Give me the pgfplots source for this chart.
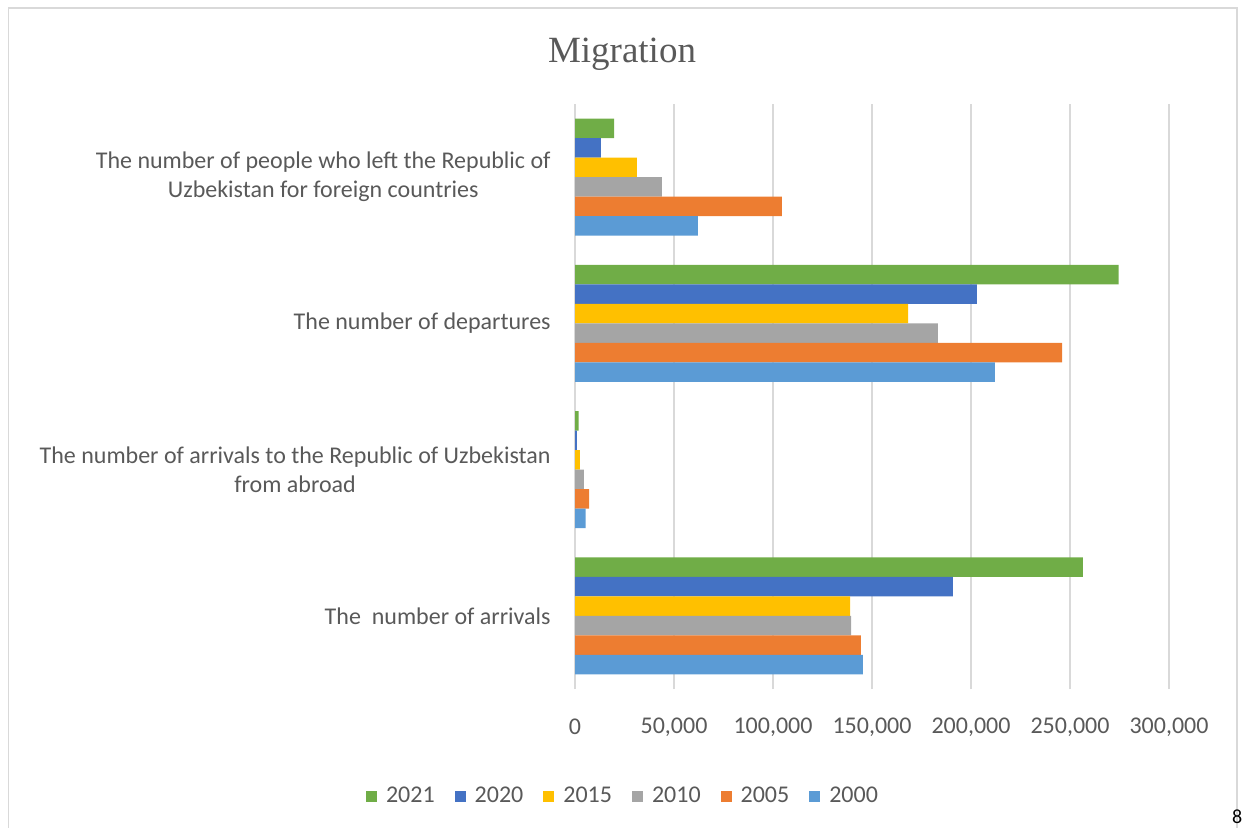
\documentclass[border=0pt]{standalone}
\usepackage{pgfplots}
\pgfplotsset{compat=1.18}
\usepackage{fontspec}
\setmainfont{Carlito}
\newfontfamily\titlefont{Liberation Serif}
\definecolor{c2021}{HTML}{70AD47}
\definecolor{c2020}{HTML}{4472C4}
\definecolor{c2015}{HTML}{FFC000}
\definecolor{c2010}{HTML}{A5A5A5}
\definecolor{c2005}{HTML}{ED7D31}
\definecolor{c2000}{HTML}{5B9BD5}
\definecolor{gridgray}{HTML}{D9D9D9}
\definecolor{textgray}{HTML}{595959}

\begin{document}
\begin{tikzpicture}
% canvas: 1 px of the reference = 0.5pt
\useasboundingbox (0,0) rectangle (621.5pt,413.5pt);
\begin{scope}
\clip (0,0) rectangle (621.5pt,413.5pt);
\draw[gridgray, line width=0.8pt] (4.3pt,-5pt) -- (4.3pt,409.5pt) -- (618.5pt,409.5pt) -- (618.5pt,-5pt);
\end{scope}
\node[anchor=base east, inner sep=0pt, font=\fontsize{10}{12}\selectfont, text=black] at (621.3pt,2pt) {8};
\node[font=\titlefont\fontsize{18.5}{22}\selectfont, text=textgray] at (311pt,386.5pt) {Migration};
\begin{axis}[
  at={(287.5pt,69pt)}, anchor=south west,
  scale only axis, width=297pt, height=292.5pt,
  xbar, bar width=9.75pt,
  xmin=0, xmax=300000,
  ymin=-0.5, ymax=3.5,
  xtick={0,50000,100000,150000,200000,250000,300000},
  xticklabels={0,{50,000},{100,000},{150,000},{200,000},{250,000},{300,000}},
  scaled x ticks=false,
  xmajorgrids, grid style={gridgray, line width=0.7pt},
  axis line style={draw=none},
  major tick length=0pt,
  tick style={draw=none},
  ytick={0,1,2,3},
  yticklabels={{The\ \ number of arrivals},
    {The number of arrivals to the Republic of Uzbekistan\\from abroad},
    {The number of departures},
    {The number of people who left the Republic of\\Uzbekistan for foreign countries}},
  tick label style={font=\fontsize{12}{14.5}\selectfont, text=textgray},
  yticklabel style={align=center, anchor=east, inner sep=0pt, xshift=-12pt},
  xticklabel style={anchor=center, inner sep=0pt, yshift=-19pt},
  legend columns=6,
  legend style={draw=none, at={(0.0825,-0.1835)}, anchor=center,
    font=\fontsize{12}{14}\selectfont, text=textgray,
    /tikz/every odd column/.append style={column sep=2.5pt},
    /tikz/every even column/.append style={column sep=8pt}},
  legend image code/.code={\fill[#1] (0pt,-2.75pt) rectangle (5.5pt,2.75pt);},
]
\addplot[draw=none, fill=c2021, bar shift=24.375pt] coordinates {(256500,0) (1800,1) (274600,2) (19700,3)};
\addplot[draw=none, fill=c2020, bar shift=14.625pt] coordinates {(190900,0) (1000,1) (203000,2) (13100,3)};
\addplot[draw=none, fill=c2015, bar shift=4.875pt] coordinates {(138900,0) (2500,1) (168200,2) (31300,3)};
\addplot[draw=none, fill=c2010, bar shift=-4.875pt] coordinates {(139400,0) (4500,1) (183300,2) (43900,3)};
\addplot[draw=none, fill=c2005, bar shift=-14.625pt] coordinates {(144400,0) (7100,1) (246000,2) (104500,3)};
\addplot[draw=none, fill=c2000, bar shift=-24.375pt] coordinates {(145400,0) (5400,1) (212100,2) (62100,3)};
\legend{2021,2020,2015,2010,2005,2000}
\end{axis}
\end{tikzpicture}
\end{document}
